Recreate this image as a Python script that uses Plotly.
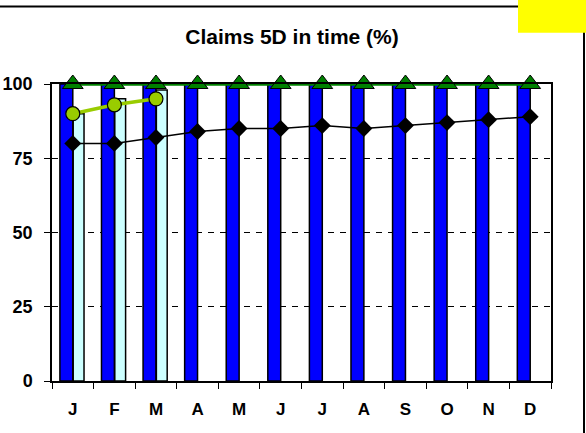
import plotly.graph_objects as go

months = ["J", "F", "M", "A", "M", "J", "J", "A", "S", "O", "N", "D"]
target = [100] * 12                      # blue bars
actual_bars = [90, 95, 98]               # light cyan bars (J-M)
prev_year = [80, 80, 82, 84, 85, 85, 86, 85, 86, 87, 88, 89]   # black diamonds
current = [90, 93, 95]                   # lime circles
goal = [100] * 12                        # green triangles
y_ticks = [0, 25, 50, 75, 100]

x = list(range(len(months)))
FONT = "Liberation Sans, Arial, sans-serif"

fig = go.Figure()
fig.add_trace(go.Bar(x=x, y=target, offset=-0.31, width=0.31,
                     marker=dict(color="#0000FF", line=dict(color="black", width=1.5))))
fig.add_trace(go.Bar(x=x[:len(actual_bars)], y=actual_bars, offset=0.01, width=0.26,
                     marker=dict(color="#CCFFFF", line=dict(color="black", width=1.5))))
fig.add_trace(go.Scatter(x=x, y=goal, mode="lines+markers", cliponaxis=False,
                         line=dict(color="#008000", width=3.5),
                         marker=dict(symbol="triangle-up", size=18, color="#008000",
                                     line=dict(color="black", width=1))))
fig.add_trace(go.Scatter(x=x, y=prev_year, mode="lines+markers", cliponaxis=False,
                         line=dict(color="black", width=1.5),
                         marker=dict(symbol="diamond", size=13, color="black")))
fig.add_trace(go.Scatter(x=x[:len(current)], y=current, mode="lines+markers", cliponaxis=False,
                         line=dict(color="#99CC00", width=3.5),
                         marker=dict(symbol="circle", size=14, color="#99CC00",
                                     line=dict(color="black", width=1.2))))

def px_x(p):
    return (p - 52) / 499.0

def px_y(p):
    return (381 - p) / 296.7

fig.update_layout(
    width=586, height=433,
    autosize=False,
    margin=dict(l=52, r=35, t=84.3, b=52, autoexpand=False),
    paper_bgcolor="white", plot_bgcolor="white",
    showlegend=False,
    barmode="overlay",
    font=dict(family=FONT, color="black"),
    title=dict(text="<b>Claims 5D in time (%)</b>", x=292/586, xanchor="center",
               y=1 - 37/433, yanchor="middle", xref="container", yref="container",
               font=dict(size=21, family=FONT, color="black")),
    shapes=[
        dict(type="rect", xref="paper", yref="paper",
             x0=px_x(-20), x1=px_x(584), y0=px_y(460), y1=px_y(7),
             line=dict(color="black", width=2), layer="above"),
        dict(type="rect", xref="paper", yref="paper",
             x0=px_x(518), x1=px_x(600), y0=px_y(33), y1=px_y(-10),
             fillcolor="#FFFF00", line=dict(width=0), layer="above"),
    ],
)
fig.update_xaxes(range=[-0.5, 11.5], tickvals=x, ticktext=months, automargin=False,
                 ticks="", ticklen=0, ticklabelstandoff=12,
                 tickfont=dict(size=17, family=FONT, weight="bold", color="black"),
                 showgrid=False, zeroline=False,
                 showline=True, linecolor="black", linewidth=1.5, mirror=True,
                 minor=dict(tick0=-0.5, dtick=1, ticks="outside", ticklen=6,
                            tickcolor="black", tickwidth=1.2, showgrid=False))
fig.update_yaxes(range=[0, 100], tickvals=y_ticks, ticks="outside", ticklen=6, automargin=False,
                 tickcolor="black", tickwidth=1.2, ticklabelstandoff=8,
                 tickfont=dict(size=18, family=FONT, weight="bold", color="black"),
                 showgrid=True, gridcolor="black", gridwidth=1, griddash="6px,6px",
                 zeroline=False,
                 showline=True, linecolor="black", linewidth=1.5, mirror=True)

fig.write_html("out.html", config={"displayModeBar": False},
               post_script="document.body.style.margin='0px';")
